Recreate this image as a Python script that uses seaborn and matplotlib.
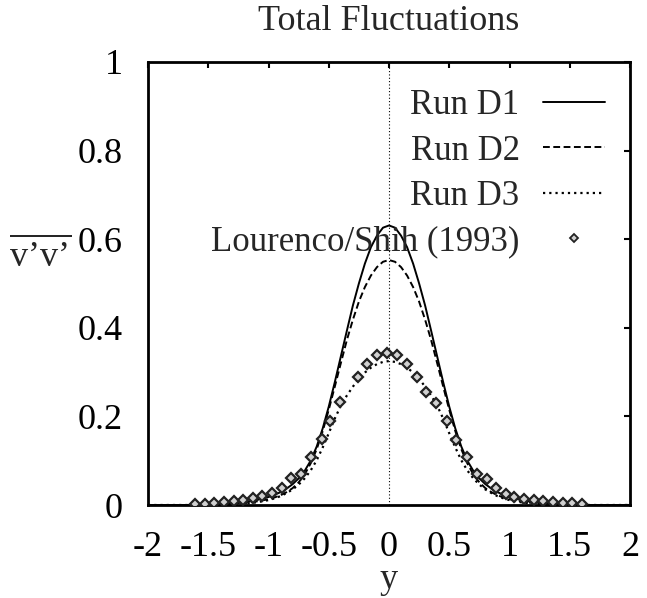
import numpy as np
import pandas as pd
import matplotlib
matplotlib.use("Agg")
import matplotlib.pyplot as plt
import seaborn as sns

# ---- data ----
x_sim = [-2.0, -1.6, -1.5, -1.4, -1.3, -1.2, -1.1, -1.0, -0.95, -0.9, -0.85, -0.8, -0.75,
         -0.7, -0.65, -0.6, -0.55, -0.5, -0.45, -0.4, -0.35, -0.3, -0.25, -0.2, -0.15,
         -0.1, -0.05, 0.0, 0.05, 0.1, 0.15, 0.2, 0.25, 0.3, 0.35, 0.4, 0.45, 0.5, 0.55,
         0.6, 0.65, 0.7, 0.75, 0.8, 0.85, 0.9, 0.95, 1.0, 1.1, 1.2, 1.3, 1.4, 1.5, 1.6, 2.0]
run_d1 = [0.0, 0.0, 0.0005, 0.0015, 0.003, 0.006, 0.011, 0.018, 0.023, 0.029, 0.037, 0.047,
          0.060, 0.077, 0.100, 0.132, 0.173, 0.222, 0.277, 0.335, 0.393, 0.450, 0.500,
          0.545, 0.582, 0.608, 0.626, 0.631, 0.626, 0.608, 0.582, 0.545, 0.500, 0.450,
          0.393, 0.335, 0.277, 0.222, 0.173, 0.132, 0.100, 0.077, 0.060, 0.047, 0.037,
          0.029, 0.023, 0.018, 0.011, 0.006, 0.003, 0.0015, 0.0005, 0.0, 0.0]
run_d2 = [0.0, 0.0, 0.0, 0.001, 0.002, 0.004, 0.008, 0.013, 0.017, 0.022, 0.029, 0.038,
          0.051, 0.069, 0.094, 0.126, 0.167, 0.215, 0.267, 0.320, 0.372, 0.418, 0.459,
          0.492, 0.518, 0.537, 0.549, 0.553, 0.549, 0.537, 0.518, 0.492, 0.459, 0.418,
          0.372, 0.320, 0.267, 0.215, 0.167, 0.126, 0.094, 0.069, 0.051, 0.038, 0.029,
          0.022, 0.017, 0.013, 0.008, 0.004, 0.002, 0.001, 0.0, 0.0, 0.0]
run_d3 = [0.0, 0.0, 0.0, 0.0, 0.001, 0.003, 0.006, 0.011, 0.015, 0.020, 0.027, 0.035,
          0.046, 0.060, 0.078, 0.101, 0.130, 0.162, 0.195, 0.224, 0.247, 0.267, 0.285,
          0.299, 0.310, 0.318, 0.323, 0.325, 0.323, 0.318, 0.310, 0.299, 0.285, 0.267,
          0.247, 0.224, 0.195, 0.162, 0.130, 0.101, 0.078, 0.060, 0.046, 0.035, 0.027,
          0.020, 0.015, 0.011, 0.006, 0.003, 0.001, 0.0, 0.0, 0.0, 0.0]

x_exp = [-1.61, -1.53, -1.45, -1.37, -1.29, -1.21, -1.13, -1.05, -0.97, -0.89, -0.81, -0.73,
         -0.65, -0.56, -0.49, -0.41, -0.26, -0.18, -0.10, -0.02, 0.07, 0.15, 0.23, 0.31,
         0.39, 0.48, 0.56, 0.65, 0.73, 0.81, 0.89, 0.97, 1.04, 1.12, 1.20, 1.28, 1.36,
         1.44, 1.52, 1.60]
v_exp = [0.002, 0.003, 0.005, 0.007, 0.009, 0.011, 0.015, 0.020, 0.026, 0.039, 0.061, 0.069,
         0.108, 0.148, 0.189, 0.232, 0.290, 0.319, 0.338, 0.344, 0.339, 0.319, 0.290, 0.256,
         0.230, 0.189, 0.147, 0.108, 0.071, 0.058, 0.039, 0.024, 0.019, 0.013, 0.011, 0.009,
         0.007, 0.005, 0.004, 0.002]

labels = ["Run D1", "Run D2", "Run D3", "Lourenco/Shih (1993)"]
xticks = [-2, -1.5, -1, -0.5, 0, 0.5, 1, 1.5, 2]
xticklabels = ["-2", "-1.5", "-1", "-0.5", "0", "0.5", "1", "1.5", "2"]
yticks = [0, 0.2, 0.4, 0.6, 0.8, 1]
yticklabels = ["0", "0.2", "0.4", "0.6", "0.8", "1"]
title = "Total Fluctuations"
xlabel = "y"

# ---- style ----
sns.set_style("white")
FS = 26
LFS = 25
plt.rcParams["font.family"] = ["Liberation Serif", "DejaVu Serif"]
plt.rcParams["mathtext.fontset"] = "custom"
plt.rcParams["mathtext.rm"] = "Liberation Serif"
plt.rcParams["mathtext.it"] = "Liberation Serif:italic"

W, H = 647, 598
fig = plt.figure(figsize=(W / 100, H / 100), dpi=100)
L, R, B, T = 148, 630, 505, 62
ax = fig.add_axes([L / W, 1 - B / H, (R - L) / W, (B - T) / H])

ax.axvline(0, color="black", lw=0.8, ls=(0, (1, 2)), zorder=1)

sns.lineplot(x=x_sim, y=run_d1, ax=ax, color="black", lw=1.4, ls="-",
             estimator=None, sort=False, label=labels[0])
sns.lineplot(x=x_sim, y=run_d2, ax=ax, color="black", lw=1.4, ls=(0, (3.5, 1.8)),
             estimator=None, sort=False, label=labels[1])
sns.lineplot(x=x_sim, y=run_d3, ax=ax, color="black", lw=1.6, ls=(0, (1.0, 1.8)),
             estimator=None, sort=False, label=labels[2])
ax.plot(x_exp, v_exp, ls="none", marker="D", ms=5.5, mfc="#d0d0d0", mec="#222222",
        mew=1.6, label=labels[3], zorder=5)

ax.set_xlim(-2, 2)
ax.set_ylim(0, 1)
ax.set_xticks(xticks)
ax.set_xticklabels(xticklabels)
ax.set_yticks(yticks)
ax.set_yticklabels(yticklabels)
ax.tick_params(axis="both", direction="in", length=4, width=1.5, labelsize=FS,
               top=True, right=True, colors="black")
ax.tick_params(axis="x", pad=19)
ax.tick_params(axis="y", pad=18)
for s in ax.spines.values():
    s.set_linewidth(2.0)
    s.set_color("black")
ax.set_xlabel("")
ax.set_ylabel("")

leg = ax.legend(loc="upper right", bbox_to_anchor=((605 - L) / (R - L), (B - 89) / (B - T)),
                frameon=False, fontsize=LFS, markerfirst=False, handlelength=1.8,
                handletextpad=0.66, labelspacing=0.36, borderpad=0, borderaxespad=0)
for h in leg.legend_handles:
    if h.get_marker() == "D":
        h.set_markersize(4.5)
        h.set_markeredgewidth(1.3)

fig.text(389 / W, 1 - 22 / H, title, ha="center", va="center", fontsize=FS)
fig.text(389 / W, 1 - 580 / H, xlabel, ha="center", va="center", fontsize=FS)
fig.text(40 / W, 1 - 256 / H, r"$\overline{\mathrm{v’v’}}$", ha="center", va="center",
         fontsize=FS)

fig.savefig("out.png", dpi=100)
